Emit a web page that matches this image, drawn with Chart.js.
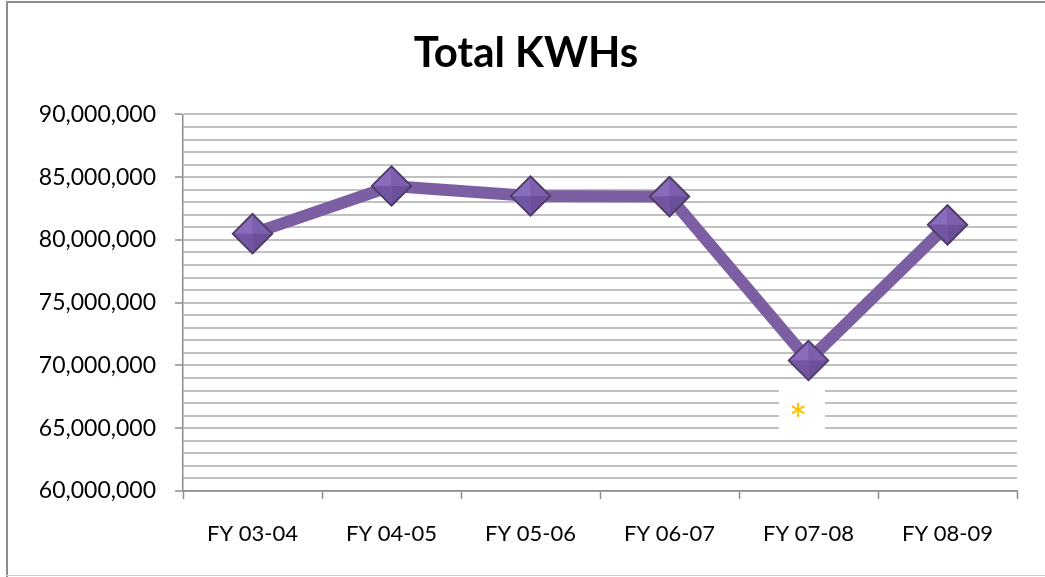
<!DOCTYPE html>
<html>
<head>
<meta charset="utf-8">
<script src="https://cdn.jsdelivr.net/npm/chart.js@4/dist/chart.umd.min.js"></script>
<style>
  html, body { margin: 0; padding: 0; background: #fff; }
  #wrap { position: relative; width: 1045px; height: 577px; }
</style>
</head>
<body>
<div id="wrap"><canvas id="c" width="1045" height="577"></canvas></div>
<script>
const categories = ['FY 03-04', 'FY 04-05', 'FY 05-06', 'FY 06-07', 'FY 07-08', 'FY 08-09'];
const totalKwh = [80500000, 84300000, 83500000, 83450000, 70400000, 81200000];
const yMin = 60000000;
const yMax = 90000000;
const minorStep = 1000000;
const majorStep = 5000000;
const noteText = '*';
const noteIndex = 4;

const bevelMarkers = {
  id: 'bevelMarkers',
  afterDatasetsDraw(chart) {
    const ctx = chart.ctx;
    const meta = chart.getDatasetMeta(0);
    const r = 19.5;
    ctx.save();
    meta.data.forEach((p) => {
      const x = p.x, y = p.y;
      const L = [x - r, y], T = [x, y - r], R = [x + r, y], B = [x, y + r], C = [x, y];
      const facets = [
        [L, T, '#8a6cbd'],
        [T, R, '#7d5fb0'],
        [R, B, '#6b4f99'],
        [B, L, '#7356a3']
      ];
      facets.forEach(([a, b, col]) => {
        ctx.beginPath();
        ctx.moveTo(C[0], C[1]);
        ctx.lineTo(a[0], a[1]);
        ctx.lineTo(b[0], b[1]);
        ctx.closePath();
        ctx.fillStyle = col;
        ctx.fill();
      });
      ctx.beginPath();
      ctx.moveTo(L[0], L[1]); ctx.lineTo(T[0], T[1]); ctx.lineTo(R[0], R[1]); ctx.lineTo(B[0], B[1]); ctx.closePath();
      ctx.lineWidth = 1.5;
      ctx.strokeStyle = '#4e3d66';
      ctx.stroke();
    });
    ctx.restore();
  }
};

const frameAndNote = {
  id: 'frameAndNote',
  afterDraw(chart) {
    const ctx = chart.ctx;
    ctx.save();
    ctx.fillStyle = '#8c8c8c';
    ctx.fillRect(6, 1, 2, 576);
    ctx.fillRect(6, 1, 1039, 2);
    ctx.fillStyle = '#d0d0d0';
    ctx.fillRect(6, 575, 1039, 1);
    const meta = chart.getDatasetMeta(0);
    const pt = meta.data[noteIndex];
    const nx = pt.x - 10.5;
    const ny = pt.y + 51;
    ctx.fillStyle = '#ffffff';
    ctx.fillRect(nx - 19, ny - 29, 46, 48);
    ctx.fillStyle = '#FFC000';
    ctx.font = '44px Lato';
    ctx.textAlign = 'center';
    ctx.textBaseline = 'alphabetic';
    ctx.fillText(noteText, nx, ny + 25);
    ctx.restore();
  }
};

new Chart(document.getElementById('c'), {
  type: 'line',
  data: {
    labels: categories,
    datasets: [{
      label: 'Total KWHs',
      data: totalKwh,
      borderColor: '#7c5fa3',
      borderWidth: 12,
      backgroundColor: '#7b5bab',
      pointStyle: 'rectRot',
      pointRadius: 20,
      pointHoverRadius: 20,
      pointBackgroundColor: '#7b5bab',
      pointBorderColor: '#4e3d66',
      pointBorderWidth: 1.5,
      tension: 0,
      fill: false
    }]
  },
  options: {
    responsive: false,
    animation: false,
    events: [],
    layout: { padding: { left: 7, right: 0, top: 0, bottom: 0 } },
    plugins: {
      legend: { display: false },
      tooltip: { enabled: false },
      title: {
        display: true,
        text: 'Total KWHs',
        color: '#000',
        font: { family: 'Lato', size: 42, weight: 'bold' },
        padding: { top: 28, bottom: 36 }
      }
    },
    scales: {
      x: {
        offset: true,
        grid: {
          offset: true,
          drawOnChartArea: false,
          drawTicks: true,
          tickLength: 8,
          tickColor: '#8c8c8c',
          tickWidth: 1.5
        },
        border: { display: true, color: '#8c8c8c', width: 1.5 },
        ticks: {
          color: '#000',
          font: { family: 'Lato', size: 22 },
          padding: 22,
          maxRotation: 0
        },
        afterFit(scale) { scale.height = 86; }
      },
      y: {
        min: yMin,
        max: yMax,
        grid: {
          color: '#c0c0c0',
          lineWidth: 2,
          tickLength: 8,
          tickWidth: 1.5,
          tickColor: (ctx) => (ctx.tick && ctx.tick.value % majorStep === 0) ? '#8c8c8c' : 'rgba(0,0,0,0)'
        },
        border: { display: true, color: '#8c8c8c', width: 1.5 },
        ticks: {
          stepSize: minorStep,
          autoSkip: false,
          color: '#000',
          font: { family: 'Lato', size: 23 },
          padding: 19,
          callback: (v) => (v % majorStep === 0) ? v.toLocaleString('en-US') : ''
        },
        afterFit(scale) { scale.width = 176; }
      },
      spacer: {
        type: 'linear',
        position: 'right',
        display: true,
        grid: { display: false, drawTicks: false },
        border: { display: false },
        ticks: { display: false },
        afterFit(scale) { scale.width = 28; }
      }
    }
  },
  plugins: [bevelMarkers, frameAndNote]
});
</script>
</body>
</html>
